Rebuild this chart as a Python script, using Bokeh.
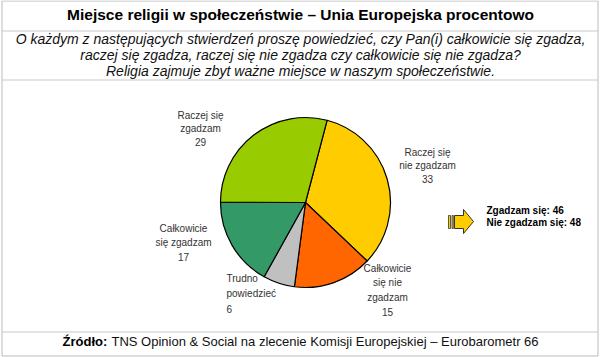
import math
from bokeh.plotting import figure
from bokeh.models import Range1d, ColumnDataSource
from bokeh.core.properties import value
from bokeh.embed import file_html
from bokeh.resources import INLINE

# ---- data ----
categories = ["Raczej się\nnie zgadzam", "Całkowicie\nsię nie\nzgadzam", "Trudno\npowiedzieć",
              "Całkowicie\nsię zgadzam", "Raczej się\nzgadzam"]
values = [33, 15, 6, 17, 29]
colors = ["#FFCC00", "#FF6600", "#C0C0C0", "#339966", "#99CC00"]
summary_labels = ["Zgadzam się", "Nie zgadzam się"]
summary_values = [46, 48]

title = "Miejsce religii w społeczeństwie – Unia Europejska procentowo"
subtitle = ["O każdym z następujących stwierdzeń proszę powiedzieć, czy Pan(i) całkowicie się zgadza,",
            "raczej się zgadza, raczej się nie zgadza czy całkowicie się nie zgadza?",
            "Religia zajmuje zbyt ważne miejsce w naszym społeczeństwie."]
source_bold = "Źródło:"
source_rest = "TNS Opinion & Social na zlecenie Komisji Europejskiej – Eurobarometr 66"

W, H = 600, 357
FONT = "Liberation Sans"

def Y(y):
    return H - y

p = figure(width=W, height=H, output_backend="svg", toolbar_location=None,
           x_range=Range1d(0, W), y_range=Range1d(0, H), min_border=0)
p.axis.visible = False
p.grid.visible = False
p.outline_line_color = None
p.background_fill_color = "white"
p.border_fill_color = "white"

# frame lines
p.quad(left=[1.5], right=[597.5], bottom=[Y(355.5)], top=[Y(0.5)], fill_color=None, line_color="#BBBBBB", line_width=1)
for yy in [30.5, 79.5, 331.5]:
    p.segment(x0=[1.5], x1=[597.5], y0=[Y(yy)], y1=[Y(yy)], line_color="#C8C8C8", line_width=1)

# title
p.text(x=[300], y=[Y(14)], text=[title], text_font=value(FONT), text_font_size="15.5px",
       text_font_style="bold", text_align="center", text_baseline="middle", text_color="black")
# subtitle
p.text(x=[300] * 3, y=[Y(38.5), Y(54.5), Y(70.5)], text=subtitle, text_font=value(FONT), text_font_size="14px",
       text_font_style="italic", text_align="center", text_baseline="middle", text_color="#111111")

# pie
cx, cy, r = 305, Y(202), 85
start_deg = 90 - 14.7
total = sum(values)
cum = [0]
for v in values:
    cum.append(cum[-1] + v)
starts = [math.radians(start_deg - cum[i + 1] / total * 360) for i in range(len(values))]
ends = [math.radians(start_deg - cum[i] / total * 360) for i in range(len(values))]
src = ColumnDataSource(dict(start=starts, end=ends, color=colors))
p.wedge(x=cx, y=cy, radius=r, start_angle="start", end_angle="end", fill_color="color",
        line_color="black", line_width=1.2, source=src)

# slice labels
lab_x = [427, 387, 226, 183, 200]
lab_y = [146, 262, 272, 222, 109]
lab_align = ["center", "center", "left", "center", "center"]
lab_lh = [1.25, 1.35, 1.45, 1.35, 1.25]
for i in range(len(values)):
    p.text(x=[lab_x[i]], y=[Y(lab_y[i])], text=[f"{categories[i]}\n{values[i]}"],
           text_font=value(FONT), text_font_size="10px", text_align=lab_align[i],
           text_baseline="top", text_color="#333333", text_line_height=lab_lh[i])

# striped arrow
ax = [454, 463, 463, 473, 463, 463, 454]
ay = [215, 215, 209, 221, 233, 228, 228]
p.patch(x=ax, y=[Y(v) for v in ay], fill_color="#FFCC00", line_color="#333333", line_width=1)
p.quad(left=[448, 451.5], right=[450, 452.8], bottom=[Y(228)] * 2, top=[Y(215)] * 2,
       fill_color="#FFCC00", line_color="#333333", line_width=0.8)

p.text(x=[486, 486], y=[Y(210), Y(222)],
       text=[f"{summary_labels[i]}: {summary_values[i]}" for i in range(2)],
       text_font=value(FONT), text_font_size="10px", text_font_style="bold",
       text_align="left", text_baseline="middle", text_color="black")

# source
p.text(x=[62], y=[Y(341)], text=[source_bold], text_font=value(FONT), text_font_size="13px",
       text_font_style="bold", text_align="left", text_baseline="middle", text_color="black")
p.text(x=[111], y=[Y(341)], text=[source_rest], text_font=value(FONT), text_font_size="13px",
       text_align="left", text_baseline="middle", text_color="#111111")

open("out.html", "w").write(file_html(p, INLINE))
